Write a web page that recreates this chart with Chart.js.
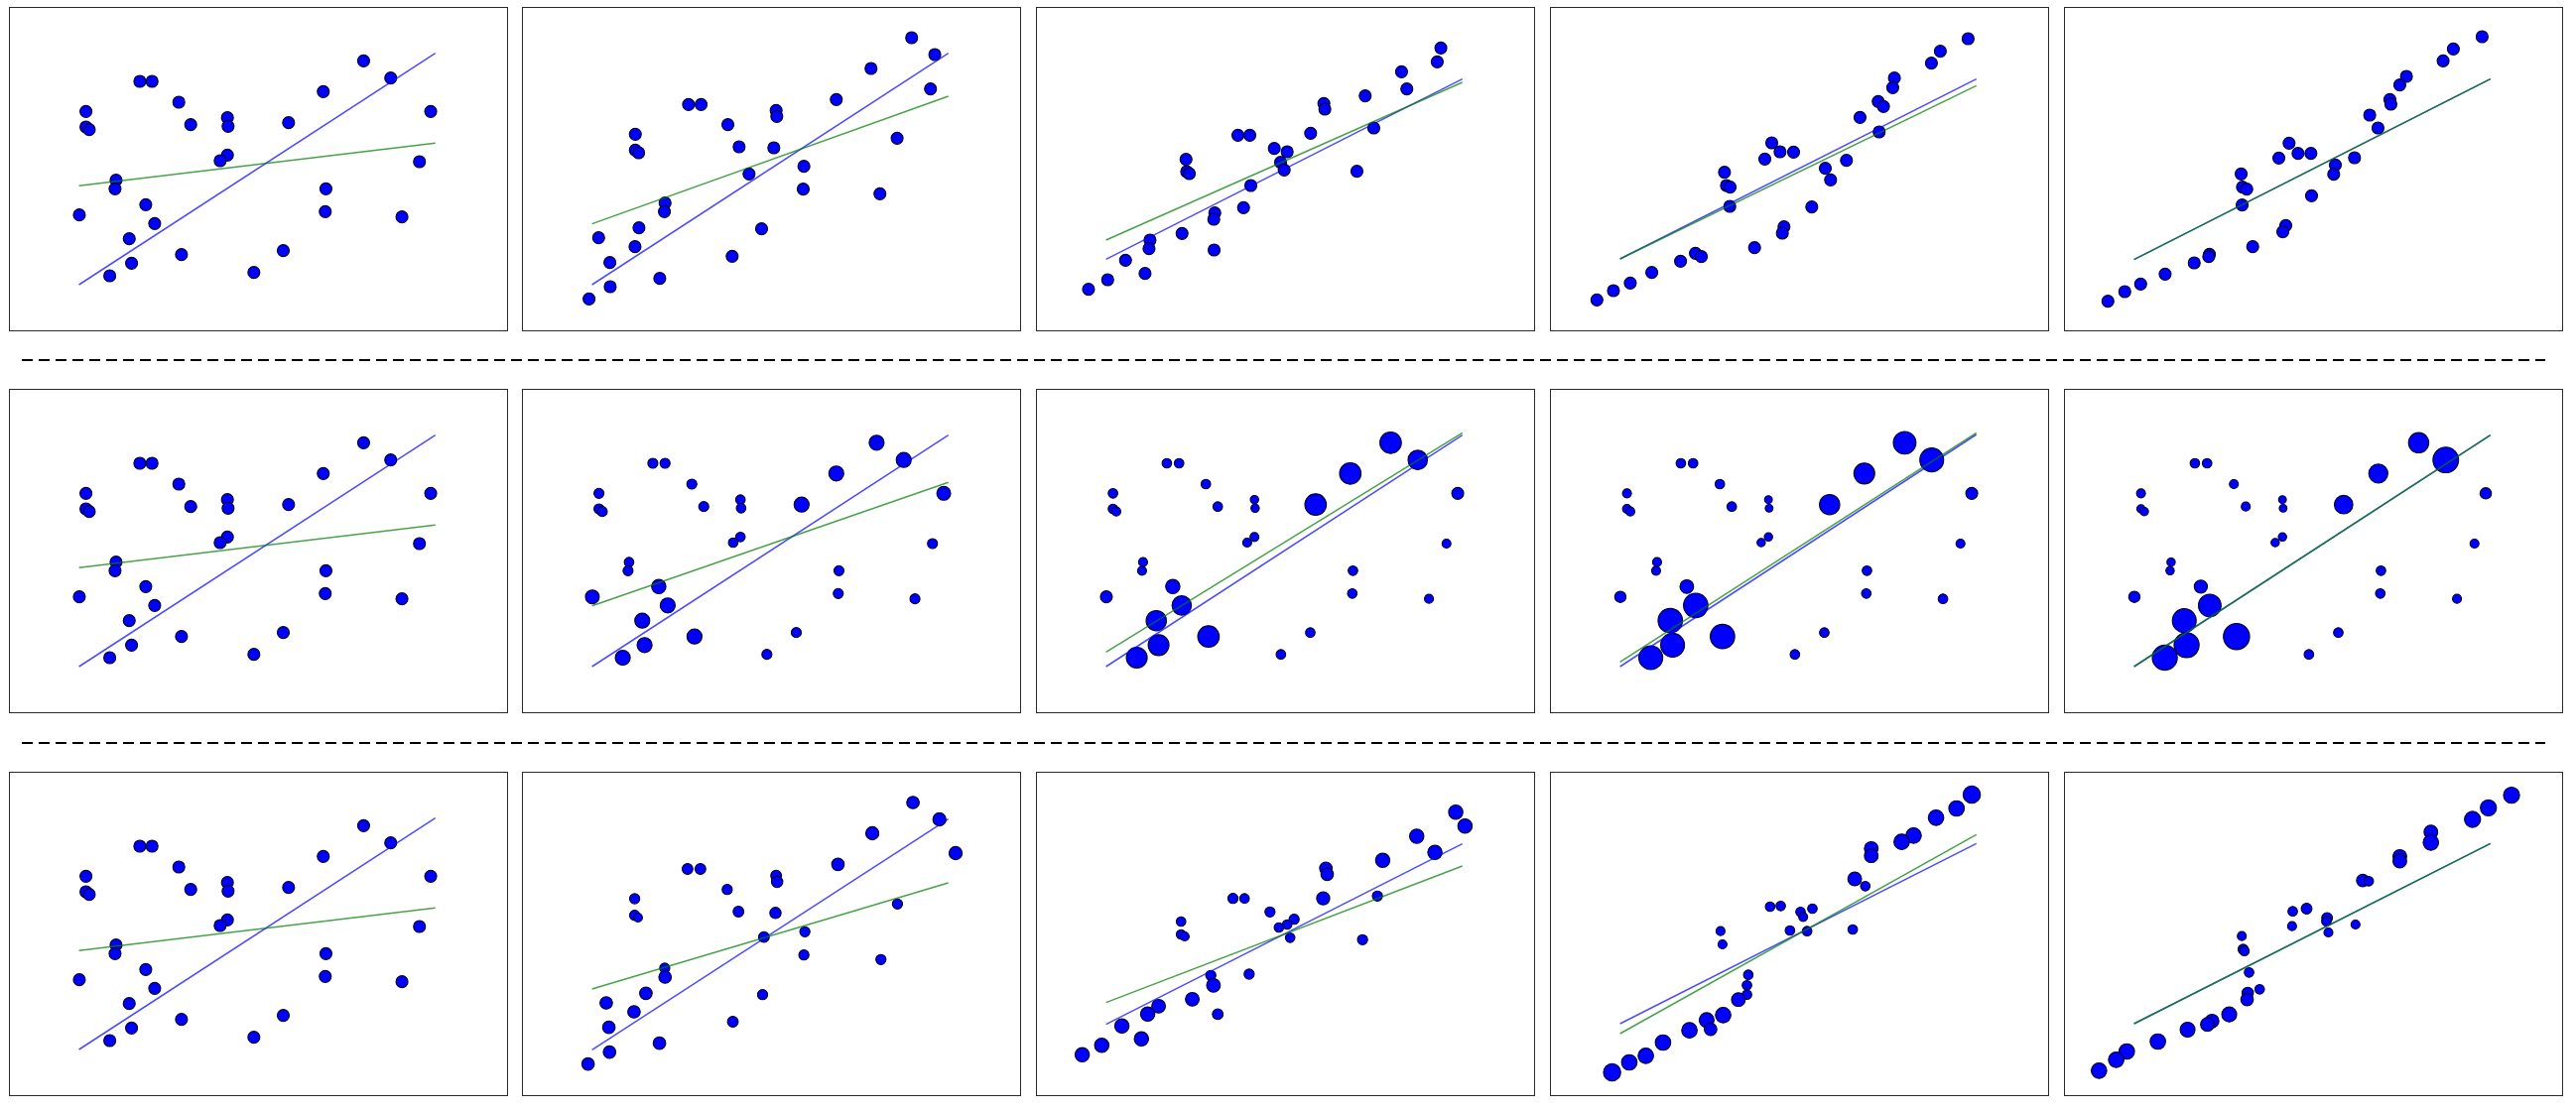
<!DOCTYPE html>
<html>
<head>
<meta charset="utf-8">
<script src="https://cdn.jsdelivr.net/npm/chart.js@4.4.0/dist/chart.umd.min.js"></script>
<style>
  html, body { margin: 0; padding: 0; background: #fff; }
  body { width: 2596px; height: 1121px; position: relative; overflow: hidden; }
  .panel { position: absolute; width: 503px; height: 327px; }
  .panel canvas { position: absolute; left: 0; top: 0; }
  .frame { position: absolute; left: 0; top: 0; width: 503px; height: 327px;
           box-sizing: border-box; border: 1.5px solid #2a2a2a; pointer-events: none; }
  #sep { position: absolute; left: 0; top: 0; }
</style>
</head>
<body>
<svg id="sep" width="2596" height="1121">
  <line x1="22" y1="363" x2="2565" y2="363" stroke="#000" stroke-width="2" stroke-dasharray="11 6"/>
  <line x1="22" y1="749" x2="2565" y2="749" stroke="#000" stroke-width="2" stroke-dasharray="11 6"/>
</svg>
<script>
// x range of the two regression lines (same in every panel)
const lineX = [21.2, 129.0];

// row 1 : positions, all points same size
const posA = [[107.3,81.8],[115.5,76.6],[95.1,72.5],[39.6,75.6],[43.3,75.6],[51.4,69.3],[23.3,66.5],[127.6,66.5],
  [23.3,61.8],[24.3,61.0],[55.0,62.5],[66.1,64.6],[66.3,62.0],[84.6,63.1],[66.1,53.3],[63.9,51.6],[124.2,51.3],
  [32.4,45.7],[32.1,43.1],[95.9,43.1],[21.3,35.2],[41.4,38.3],[95.7,36.2],[118.9,34.6],[44.1,32.6],[36.4,28.0],
  [37.1,20.6],[52.2,23.2],[30.5,16.8],[83.0,24.4],[74.1,17.8]];
const posB = [[117.9,88.8],[124.9,83.7],[105.6,79.5],[123.6,73.3],[95.1,70.1],[50.4,68.6],[54.2,68.6],[76.9,66.8],
  [77.1,65.0],[62.3,62.5],[34.3,59.6],[34.3,54.8],[35.3,54.0],[65.7,55.8],[76.2,55.5],[113.5,58.4],[85.3,49.9],
  [68.7,47.6],[85.1,43.0],[108.3,41.6],[43.3,38.8],[43.1,36.2],[35.4,31.3],[72.5,31.0],[23.2,28.3],[34.2,25.6],
  [26.6,20.8],[63.6,22.7],[41.7,16.0],[26.7,13.5],[20.3,9.8]];
const posC = [[122.5,85.7],[121.4,81.5],[110.6,78.5],[112.2,73.3],[99.6,71.2],[87.1,68.9],[87.4,67.2],[83.1,59.9],
  [102.2,61.5],[61.1,59.3],[64.7,59.3],[72.1,55.3],[76.0,54.3],[74.0,51.1],[75.1,48.8],[97.1,48.4],[45.4,52.0],
  [45.6,48.3],[46.4,47.7],[65.0,44.1],[62.8,37.4],[54.1,35.8],[53.8,33.9],[44.2,29.6],[34.5,27.6],[34.2,25.0],
  [53.9,24.6],[27.1,21.5],[33.0,17.5],[21.7,15.6],[15.9,12.7]];
const posD = [[126.5,88.5],[118.1,84.7],[115.4,81.1],[104.2,76.6],[103.7,73.7],[99.3,69.5],[100.9,68.0],[93.8,64.7],
  [99.6,60.3],[67.1,57.0],[69.6,54.3],[73.7,54.2],[65.0,52.1],[89.7,51.7],[83.3,49.3],[84.9,45.8],[52.8,48.1],
  [53.4,44.1],[54.5,43.6],[54.4,37.8],[79.2,37.6],[70.8,31.6],[70.3,29.7],[61.9,25.3],[44.0,23.6],[45.8,22.6],
  [39.5,21.2],[30.8,17.8],[24.3,14.6],[19.2,12.3],[14.2,9.5]];
const posE = [[126.5,89.1],[117.8,85.4],[114.7,81.8],[103.6,77.1],[101.6,74.5],[98.6,70.1],[98.9,68.7],[92.5,65.4],
  [95.0,61.5],[68.1,56.9],[70.8,53.8],[74.7,53.8],[65.0,52.4],[87.9,52.5],[82.1,50.3],[81.6,47.5],[53.6,47.6],
  [54.0,43.6],[55.3,43.0],[53.9,38.2],[74.9,41.0],[67.1,32.0],[66.2,30.1],[57.1,25.6],[44.0,23.3],[43.8,22.6],
  [39.4,20.7],[30.6,17.3],[23.2,14.3],[18.4,12.0],[13.3,9.1]];

// row 2 : posA positions, sample weights (relative marker radius)
const wt2B = [1.26,1.26,1.26,0.84,0.84,0.84,0.84,1.16,0.84,0.84,0.84,0.8,0.8,1.26,0.8,0.8,0.84,0.8,0.84,0.84,
  1.16,1.2,0.84,0.84,1.26,1.26,1.26,1.26,1.26,0.84,0.84];
const wt2C = [1.8,1.63,1.8,0.8,0.8,0.8,0.8,1.0,0.8,0.75,0.8,0.7,0.7,1.8,0.75,0.75,0.75,0.75,0.75,0.8,
  1.0,1.2,0.8,0.75,1.63,1.7,1.75,1.8,1.75,0.8,0.8];
const wt2D = [1.9,2.0,1.75,0.8,0.8,0.8,0.75,1.0,0.75,0.75,0.8,0.65,0.65,1.7,0.7,0.7,0.75,0.75,0.75,0.8,
  0.95,1.15,0.8,0.8,2.05,2.05,2.0,2.05,2.0,0.8,0.8];
const wt2E = [1.7,2.15,1.6,0.8,0.8,0.75,0.75,0.95,0.7,0.7,0.75,0.65,0.65,1.55,0.7,0.7,0.75,0.7,0.7,0.8,
  0.95,1.1,0.8,0.75,1.9,2.0,2.1,2.2,2.1,0.8,0.8];

// row 3 : [x, y, weight]
const posF = [[118.3,88.8,1.05],[126.3,83.7,1.1],[106.0,79.5,1.1],[131.2,73.5,1.1],[95.6,70.1,1.05],[50.1,68.7,0.9],
  [54.0,68.7,0.9],[76.9,66.7,0.9],[77.2,64.8,0.95],[62.1,62.5,0.85],[34.1,59.7,0.85],[34.1,54.7,0.85],[35.1,54.0,0.75],
  [65.5,55.8,0.9],[76.7,55.4,0.95],[113.6,58.1,0.85],[85.6,49.7,0.85],[73.2,48.1,0.9],[85.3,42.7,0.85],[108.6,41.3,0.85],
  [43.2,38.7,0.85],[43.3,36.0,1.05],[37.5,31.1,1.05],[72.8,30.7,0.85],[25.5,28.2,1.05],[33.9,25.5,1.05],[26.3,20.8,1.05],
  [63.8,22.5,0.9],[41.6,16.0,1.05],[26.5,13.3,1.05],[20.0,9.7,1.05]];
const posG = [[127.0,85.9,1.2],[129.8,81.7,1.2],[115.2,78.6,1.2],[120.7,73.7,1.2],[104.9,71.3,1.2],[87.7,68.9,1.05],
  [88.1,67.1,1.05],[86.9,59.8,1.1],[103.3,60.5,0.85],[59.6,59.8,0.85],[63.1,59.8,0.8],[70.8,55.7,0.85],[78.1,53.5,0.85],
  [76.0,51.9,0.8],[73.5,51.0,0.8],[76.9,47.9,0.8],[98.8,47.3,0.85],[43.9,52.8,0.8],[43.9,48.9,0.8],[45.0,48.3,0.75],
  [64.5,36.9,0.85],[52.9,36.5,0.85],[53.7,33.5,1.15],[47.3,29.3,1.15],[37.1,27.2,1.15],[33.8,24.8,1.2],[55.0,24.8,0.9],
  [26.0,21.2,1.2],[31.9,17.3,1.2],[19.9,15.4,1.2],[14.0,12.5,1.2]];
const posH = [[127.6,91.2,1.45],[123.0,87.0,1.3],[116.8,84.2,1.3],[110.0,78.8,1.3],[106.4,76.9,1.3],[97.2,74.9,1.15],
  [97.2,72.7,1.15],[92.2,65.7,1.15],[95.4,63.5,0.8],[66.6,57.3,0.8],[69.8,57.5,0.8],[75.8,55.7,0.8],[79.4,56.7,0.8],
  [76.6,54.2,0.75],[72.6,50.1,0.8],[77.8,49.9,0.8],[91.6,50.4,0.8],[51.6,49.9,0.75],[52.2,45.9,0.75],[60.0,36.7,0.8],
  [59.6,33.5,0.8],[59.6,30.7,0.8],[57.0,29.2,1.15],[52.4,24.5,1.3],[47.4,23.0,1.25],[48.6,20.2,1.05],[42.2,19.9,1.3],
  [34.2,16.2,1.3],[29.0,12.2,1.3],[24.0,10.2,1.3],[18.8,7.2,1.45]];
const posI = [[135.4,91.0,1.35],[128.4,87.2,1.35],[123.6,83.7,1.35],[111.0,79.9,1.15],[111.0,76.7,1.3],[101.6,72.5,1.15],
  [101.6,71.1,1.15],[90.4,65.2,1.05],[92.2,65.0,0.8],[69.2,55.9,0.8],[73.4,56.7,0.9],[79.6,53.9,0.9],[79.4,52.9,0.8],
  [80.0,49.5,0.75],[69.0,51.4,0.75],[88.2,51.9,0.75],[53.8,48.4,0.75],[54.2,44.4,0.85],[54.6,43.9,0.8],[56.0,37.4,0.8],
  [59.2,32.3,0.8],[55.6,31.2,0.95],[55.4,29.2,1.05],[50.0,24.7,1.25],[44.8,22.7,1.15],[43.4,21.7,1.15],[37.4,20.1,1.25],
  [28.4,16.5,1.3],[19.0,13.5,1.3],[15.8,11.0,1.3],[10.6,7.7,1.3]];

// line ends (y at lineX[0], lineX[1]), panels in reading order
const blueY = [[14.1,84.1],[14.1,84.1],[21.8,76.3],[21.9,76.3],[21.7,76.3],
               [14.1,84.1],[14.1,84.1],[14.1,84.1],[14.1,84.3],[14.1,84.1],
               [14.1,84.1],[14.0,83.8],[21.7,76.3],[21.9,76.4],[21.9,76.4]];
const greenY = [[44.0,56.9],[32.5,71.1],[27.6,75.3],[21.9,74.3],[21.7,76.3],
                [44.0,56.9],[32.5,69.8],[18.5,84.8],[15.5,84.8],[14.1,84.1],
                [44.0,56.9],[32.4,64.5],[28.3,69.6],[18.9,79.1],[21.9,76.4]];

const lefts = [9, 526, 1044, 1562, 2080];
const tops = [7, 392, 778];
const W = 503, H = 327;
const baseR = 6.0;

function withW(pos, wts) {
  return pos.map((p, i) => [p[0], p[1], wts ? wts[i] : (p.length > 2 ? p[2] : 1)]);
}

const panelPts = [
  withW(posA), withW(posB), withW(posC), withW(posD), withW(posE),
  withW(posA), withW(posA, wt2B), withW(posA, wt2C), withW(posA, wt2D), withW(posA, wt2E),
  withW(posA), withW(posF), withW(posG), withW(posH), withW(posI)
];

panelPts.forEach(function (pts, k) {
  const row = Math.floor(k / 5), col = k % 5;
  const div = document.createElement('div');
  div.className = 'panel';
  div.style.left = lefts[col] + 'px';
  div.style.top = tops[row] + 'px';
  const cv = document.createElement('canvas');
  cv.width = W; cv.height = H;
  cv.style.width = W + 'px'; cv.style.height = H + 'px';
  div.appendChild(cv);
  const fr = document.createElement('div');
  fr.className = 'frame';
  div.appendChild(fr);
  document.body.appendChild(div);

  new Chart(cv, {
    type: 'scatter',
    data: {
      datasets: [{
        data: [{x: lineX[0], y: greenY[k][0]}, {x: lineX[1], y: greenY[k][1]}],
        showLine: true,
        borderColor: 'rgba(0,128,0,0.72)',
        borderWidth: 1.5,
        pointRadius: 0,
        order: 1
      }, {
        data: [{x: lineX[0], y: blueY[k][0]}, {x: lineX[1], y: blueY[k][1]}],
        showLine: true,
        borderColor: 'rgba(0,0,255,0.7)',
        borderWidth: 1.5,
        pointRadius: 0,
        order: 2
      }, {
        data: pts.map(p => ({x: p[0], y: p[1]})),
        backgroundColor: '#0000ff',
        borderColor: '#000022',
        borderWidth: 1.1,
        pointRadius: pts.map(p => baseR * p[2]),
        order: 3
      }]
    },
    options: {
      animation: false,
      responsive: false,
      events: [],
      layout: { padding: 0, autoPadding: false },
      plugins: { legend: { display: false }, tooltip: { enabled: false } },
      scales: {
        x: { type: 'linear', display: false, min: 0, max: 151 },
        y: { type: 'linear', display: false, min: 0, max: 98.1 }
      }
    }
  });
});
</script>
</body>
</html>
